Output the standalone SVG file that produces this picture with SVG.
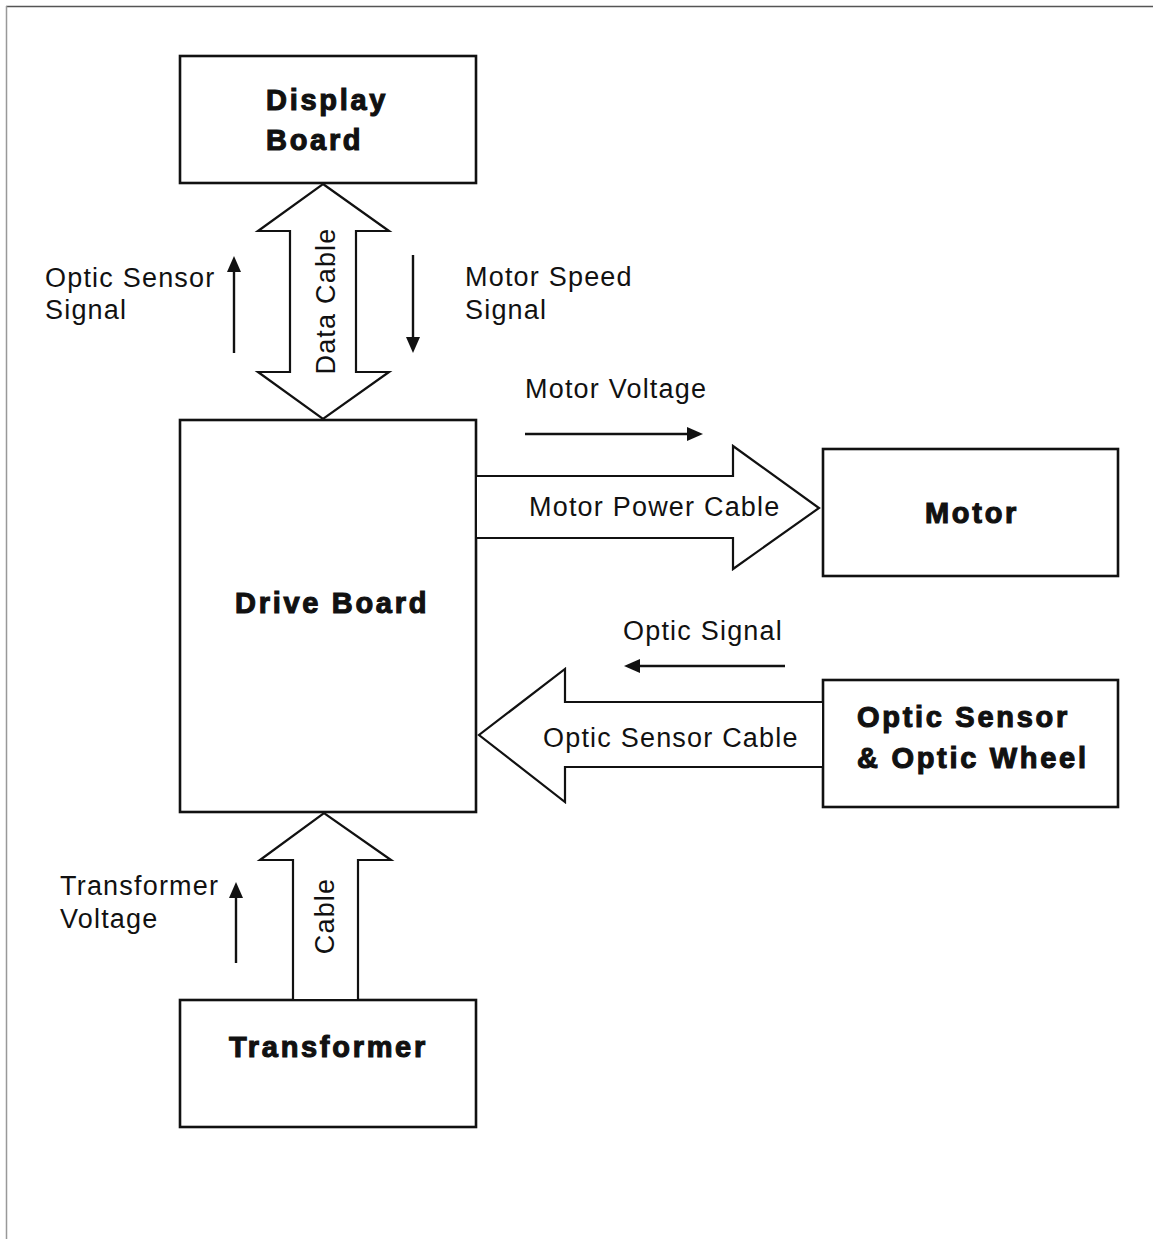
<svg xmlns="http://www.w3.org/2000/svg" width="1153" height="1239" viewBox="0 0 1153 1239">
<style>
.box{fill:#fff;stroke:#111;stroke-width:2.6}
.big{fill:#fff;stroke:#111;stroke-width:2.2;stroke-linejoin:miter}
.sig{stroke:#111;stroke-width:2.4;fill:none}
.head{fill:#111;stroke:none}
.t{font-family:"Liberation Sans",Arial,sans-serif;font-size:27px;letter-spacing:1.2px;fill:#111}
.b{font-family:"Liberation Sans",Arial,sans-serif;font-size:29px;font-weight:bold;letter-spacing:2.7px;fill:#111;stroke:#111;stroke-width:1.1px}
</style>
<rect width="1153" height="1239" fill="#fff"/>
<g id="frame">
<line x1="6" y1="6.5" x2="1153" y2="6.5" stroke="#555" stroke-width="1.5"/>
<line x1="6.5" y1="6" x2="6.5" y2="1239" stroke="#999" stroke-width="1.5"/>
</g>
<g id="display-board">
<rect class="box" x="180" y="56" width="296" height="127"/>
<text class="b" x="266" y="110">Display</text>
<text class="b" x="266" y="150">Board</text>
</g>
<g id="drive-board">
<rect class="box" x="180" y="420" width="296" height="392"/>
<text class="b" x="235" y="613">Drive Board</text>
</g>
<g id="motor">
<rect class="box" x="823" y="449" width="295" height="127"/>
<text class="b" x="925" y="523">Motor</text>
</g>
<g id="optic-sensor">
<rect class="box" x="823" y="680" width="295" height="127"/>
<text class="b" x="857" y="727">Optic Sensor</text>
<text class="b" x="857" y="768">&amp; Optic Wheel</text>
</g>
<g id="transformer">
<rect class="box" x="180" y="1000" width="296" height="127"/>
<text class="b" x="229" y="1057">Transformer</text>
</g>
<g id="connectors">
<polygon class="big" points="323,184 389,231 356,231 356,372 389,372 323,419 258,372 290,372 290,231 258,231"/>
<text class="t" transform="translate(335,301) rotate(-90)" text-anchor="middle">Data Cable</text>
<path class="big" d="M477,476 L733,476 L733,446 L819,508 L733,569 L733,538 L477,538"/>
<text class="t" x="529" y="516">Motor Power Cable</text>
<path class="big" d="M822,702 L565,702 L565,669 L479,735 L565,802 L565,767 L822,767"/>
<text class="t" x="543" y="747">Optic Sensor Cable</text>
<path class="big" d="M293,999 L293,860 L260,860 L324,813 L391,860 L358,860 L358,999"/>
<text class="t" transform="translate(334,916) rotate(-90)" text-anchor="middle">Cable</text>
<line class="sig" x1="234" y1="353" x2="234" y2="270"/>
<polygon class="head" points="234,256 227,272 241,272"/>
<line class="sig" x1="413" y1="255" x2="413" y2="338"/>
<polygon class="head" points="413,353 406,337 420,337"/>
<line class="sig" x1="525" y1="434" x2="688" y2="434"/>
<polygon class="head" points="703,434 687,427 687,441"/>
<line class="sig" x1="785" y1="666" x2="639" y2="666"/>
<polygon class="head" points="624,666 640,659 640,673"/>
<line class="sig" x1="236" y1="963" x2="236" y2="896"/>
<polygon class="head" points="236,882 229,898 243,898"/>
</g>
<g id="labels">
<text class="t" x="45" y="287">Optic Sensor</text>
<text class="t" x="45" y="319">Signal</text>
<text class="t" x="465" y="286">Motor Speed</text>
<text class="t" x="465" y="319">Signal</text>
<text class="t" x="525" y="398">Motor Voltage</text>
<text class="t" x="623" y="640">Optic Signal</text>
<text class="t" x="60" y="895">Transformer</text>
<text class="t" x="60" y="928">Voltage</text>
</g>
</svg>
